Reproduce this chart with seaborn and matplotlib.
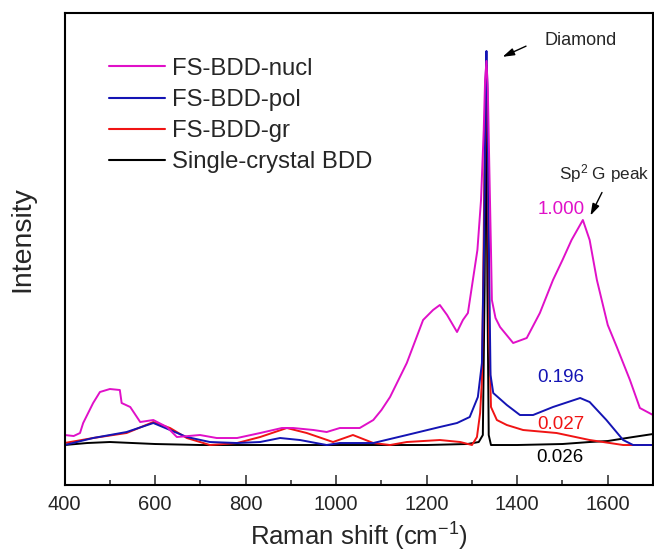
import matplotlib
matplotlib.use("Agg")
import matplotlib.pyplot as plt
import pandas as pd
import seaborn as sns
from matplotlib.lines import Line2D

# ---------------- data (intensity in arbitrary units) ----------------
series_names = ["FS-BDD-nucl", "FS-BDD-pol", "FS-BDD-gr", "Single-crystal BDD"]

nucl_x = [400, 420, 434, 441, 463, 478, 500, 522, 526, 545, 567, 596, 626, 648, 699, 736, 781,
          832, 880, 905, 950, 979, 1008, 1052, 1082, 1100, 1119, 1156, 1192, 1214, 1229, 1245,
          1267, 1280, 1291, 1302, 1312, 1320, 1326, 1329, 1332, 1335, 1338, 1342, 1344, 1352,
          1362, 1391, 1421, 1450, 1479, 1500, 1520, 1545, 1560, 1576, 1600, 1620, 1649, 1671, 1700]
nucl_y = [50, 49, 52, 62, 82, 93, 96, 95, 82, 78, 63, 65, 58, 48, 50, 47, 47,
          52, 57, 57, 55, 53, 57, 57, 65, 75, 88, 122, 165, 175, 180, 170,
          153, 165, 172, 205, 235, 285, 355, 405, 424, 395, 325, 235, 185, 167,
          158, 142, 147, 172, 205, 225, 245, 265, 245, 205, 160, 138, 105, 77, 70]

pol_x = [400, 463, 537, 596, 633, 670, 721, 781, 832, 876, 920, 979, 1008, 1082, 1156, 1229,
         1267, 1295, 1313, 1322, 1327, 1330, 1332, 1334, 1337, 1341, 1347, 1377, 1406, 1435,
         1479, 1539, 1560, 1597, 1634, 1656, 1700]
pol_y = [40, 47, 53, 62, 55, 48, 43, 42, 43, 47, 45, 40, 42, 42, 50, 58,
         62, 68, 88, 122, 250, 400, 434, 400, 250, 110, 92, 80, 70, 70,
         78, 87, 83, 65, 45, 40, 40]

gr_x = [400, 463, 537, 596, 633, 670, 721, 781, 832, 891, 935, 993, 1037, 1082, 1119, 1156,
        1229, 1274, 1300, 1311, 1318, 1322, 1326, 1329, 1332, 1335, 1338, 1342, 1355, 1377,
        1413, 1487, 1560, 1634, 1700]
gr_y = [42, 47, 52, 63, 57, 47, 40, 42, 48, 57, 52, 43, 50, 42, 40, 43,
        45, 43, 40, 48, 72, 105, 250, 390, 420, 330, 150, 78, 65, 60,
        55, 52, 45, 40, 40]

sc_x = [400, 450, 500, 550, 600, 700, 800, 900, 1000, 1100, 1200, 1290, 1315, 1324, 1328,
        1331, 1334, 1337, 1342, 1400, 1500, 1560, 1600, 1656, 1700]
sc_y = [40, 42, 43, 42, 41, 40, 40, 40, 40, 40, 40, 41, 43, 50, 200,
        420, 200, 50, 40, 40, 41, 43, 44, 48, 51]

ratio_labels = ["1.000", "0.196", "0.027", "0.026"]
x_ticks = [400, 600, 800, 1000, 1200, 1400, 1600]

# ---------------- style ----------------
colors = {"FS-BDD-nucl": "#E010C8", "FS-BDD-pol": "#1414B4",
          "FS-BDD-gr": "#F01414", "Single-crystal BDD": "#000000"}

sns.set_style("ticks")
plt.rcParams["font.family"] = ["Liberation Sans", "DejaVu Sans"]
plt.rcParams["mathtext.fontset"] = "custom"
plt.rcParams["mathtext.rm"] = "Liberation Sans"
plt.rcParams["mathtext.it"] = "Liberation Sans:italic"

frames = []
for name, xs, ys in [("FS-BDD-nucl", nucl_x, nucl_y), ("FS-BDD-pol", pol_x, pol_y),
                     ("FS-BDD-gr", gr_x, gr_y), ("Single-crystal BDD", sc_x, sc_y)]:
    frames.append(pd.DataFrame({"shift": xs, "intensity": ys, "sample": name}))
df = pd.concat(frames, ignore_index=True)

fig = plt.figure(figsize=(6.54, 5.55), dpi=100)
ax = fig.add_axes([0.0988, 0.1261, 0.8997, 0.8505])

# draw order: black, red, blue, magenta
for name in ["Single-crystal BDD", "FS-BDD-gr", "FS-BDD-pol", "FS-BDD-nucl"]:
    sub = df[df["sample"] == name]
    sns.lineplot(data=sub, x="shift", y="intensity", ax=ax, color=colors[name],
                 lw=1.4, sort=False, estimator=None, legend=False)

ax.set_xlim(400, 1700)
ax.set_ylim(0, 472)
ax.set_xticks(x_ticks)
ax.set_xticks(range(500, 1700, 200), minor=True)
ax.set_yticks([])
ax.tick_params(axis="x", which="major", direction="in", length=7, width=1.1,
               labelsize=14.5, pad=7, top=False)
ax.tick_params(axis="x", which="minor", direction="in", length=3.8, width=1.1, top=False)
for sp in ax.spines.values():
    sp.set_visible(True)
    sp.set_linewidth(1.5)
    sp.set_color("black")

ax.set_xlabel(r"Raman shift (cm$^{\mathregular{-1}}$)", fontsize=18.5, labelpad=5)
ax.set_ylabel("Intensity", fontsize=20.5)
ax.yaxis.set_label_coords(-0.05, 0.52)

handles = [Line2D([0], [0], color=colors[n], lw=1.5) for n in series_names]
ax.legend(handles, series_names, loc="upper left", bbox_to_anchor=(0.0755, 0.905),
          frameon=False, fontsize=17.2, handlelength=2.35, handletextpad=0.3,
          labelspacing=0.38, borderpad=0, borderaxespad=0)

# annotations
arrow_kw = dict(arrowstyle="-|>,head_length=0.7,head_width=0.22", color="black", lw=1.0)
ax.annotate("", xy=(1362, 427), xytext=(1425, 440), arrowprops=arrow_kw)
ax.text(1461, 444, "Diamond", fontsize=13, ha="left", va="center")
ax.annotate("", xy=(1559, 267), xytext=(1590, 295), arrowprops=arrow_kw)
ax.text(1493, 311, r"Sp$^{\mathregular{2}}$ G peak", fontsize=12.3, ha="left", va="center")

ax.text(1497, 275, ratio_labels[0], color=colors["FS-BDD-nucl"], fontsize=13.5, ha="center", va="center")
ax.text(1497, 108, ratio_labels[1], color=colors["FS-BDD-pol"], fontsize=13.5, ha="center", va="center")
ax.text(1497, 61, ratio_labels[2], color=colors["FS-BDD-gr"], fontsize=13.5, ha="center", va="center")
ax.text(1494, 28, ratio_labels[3], color=colors["Single-crystal BDD"], fontsize=13.5, ha="center", va="center")

fig.savefig("out.png", dpi=100)
